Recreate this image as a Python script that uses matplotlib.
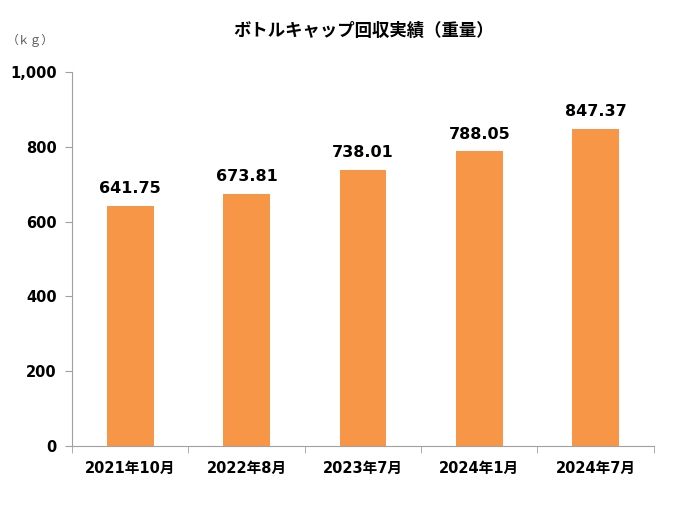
import numpy as np
from matplotlib import pyplot as plt

plt.rcParams['font.family'] = ['DejaVu Sans', 'Noto Sans CJK JP']

categories = ['2021年10月', '2022年8月', '2023年7月', '2024年1月', '2024年7月']
weights = [641.75, 673.81, 738.01, 788.05, 847.37]
yticks = [0, 200, 400, 600, 800, 1000]
ytick_labels = ['0', '200', '400', '600', '800', '1,000']

fig = plt.figure(figsize=(7, 5.15), dpi=100)
ax = fig.add_axes([0.103, 0.134, 0.831, 0.726])

x = np.arange(len(categories))
ax.bar(x, weights, width=0.4, color='#F79646')
for xi, v in zip(x, weights):
    ax.text(xi, v + 26, '{:.2f}'.format(v), ha='center', va='bottom',
            fontsize=11.5, fontweight='bold', color='#000000')

ax.set_xlim(-0.5, len(categories) - 0.5)
ax.set_ylim(0, 1000)
ax.set_xticks(x)
ax.set_xticklabels(categories, fontsize=10.5, fontweight='bold')
ax.set_xticks(np.arange(len(categories) + 1) - 0.5, minor=True)
ax.tick_params(axis='x', which='major', length=0, pad=11)
ax.tick_params(axis='x', which='minor', length=5, color='#A0A0A0')
ax.set_yticks(yticks)
ax.set_yticklabels(ytick_labels, fontsize=10.5, fontweight='bold')
ax.tick_params(axis='y', length=5, color='#A0A0A0', pad=6)

for side in ['top', 'right']:
    ax.spines[side].set_visible(False)
for side in ['left', 'bottom']:
    ax.spines[side].set_color('#A0A0A0')

fig.text(0.52, 0.94, 'ボトルキャップ回収実績（重量）', ha='center', va='center',
         fontsize=12.5, fontweight='bold', family=['Noto Sans CJK JP', 'DejaVu Sans'])
fig.text(0.043, 0.922, '（ｋｇ）', ha='center', va='center', fontsize=8.5, color='#555555',
         family=['Noto Sans CJK JP', 'DejaVu Sans'])

fig.savefig('out.png', dpi=100)
